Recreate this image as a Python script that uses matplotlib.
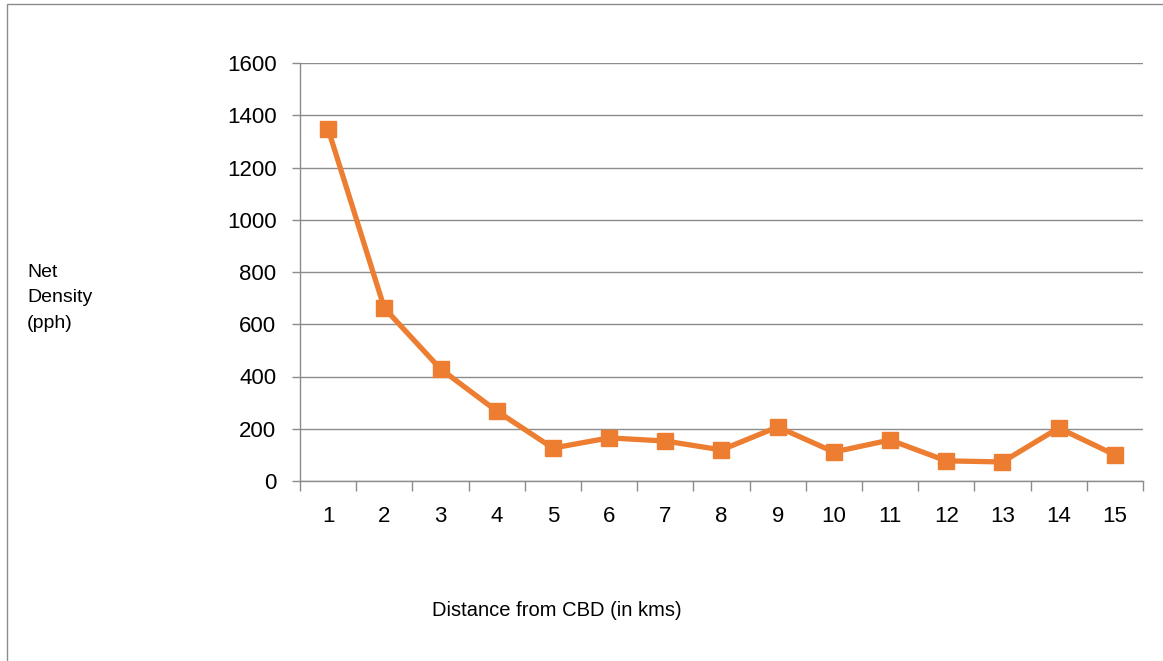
import matplotlib
matplotlib.use("Agg")
import matplotlib.pyplot as plt
from matplotlib.patches import Rectangle

distance = list(range(1, 16))
density = [1347, 662, 429, 268, 126, 165, 153, 119, 207, 111, 157, 77, 73, 203, 100]
yticks = [0, 200, 400, 600, 800, 1000, 1200, 1400, 1600]

plt.rcParams['font.family'] = ["Liberation Sans", "DejaVu Sans"]

fig = plt.figure(figsize=(11.63, 6.61), dpi=100)
ax = fig.add_axes([300/1163, 1-481/661, (1143-300)/1163, (481-63)/661])

grid_c = "#8c8c8c"
ax.plot(distance, density, color="#ED7D31", lw=3.8, marker="s", ms=11,
        markeredgecolor="#ED7D31", zorder=3, clip_on=False)

ax.set_xlim(0.5, 15.5)
ax.set_ylim(0, 1600)
ax.set_yticks(yticks)
ax.set_yticklabels([str(v) for v in yticks])
ax.set_xticks(distance)
ax.set_xticks([i + 0.5 for i in range(0, 16)], minor=True)
ax.tick_params(axis="x", which="major", length=0, pad=18, labelsize=16)
ax.tick_params(axis="x", which="minor", length=7, width=1, color=grid_c)
ax.tick_params(axis="y", which="major", length=6, width=1, color=grid_c, pad=11, labelsize=16)
ax.yaxis.grid(True, color=grid_c, lw=1)
ax.set_axisbelow(True)
for s in ["top", "right"]:
    ax.spines[s].set_visible(False)
for s in ["left", "bottom"]:
    ax.spines[s].set_color(grid_c)
    ax.spines[s].set_linewidth(1)

fig.text(27/1163, 1-298/661, "Net\nDensity\n(pph)", fontsize=14, ha="left", va="center",
         linespacing=1.65)
fig.text(557/1163, 1-610/661, "Distance from CBD (in kms)", fontsize=14.5, ha="center", va="center")

fig.patches.append(Rectangle((7/1163, -0.1), 1.2, 1 - 4/661 + 0.1, transform=fig.transFigure,
                             fill=False, edgecolor="#8c8c8c", lw=1))

fig.savefig("out.png", dpi=100)
